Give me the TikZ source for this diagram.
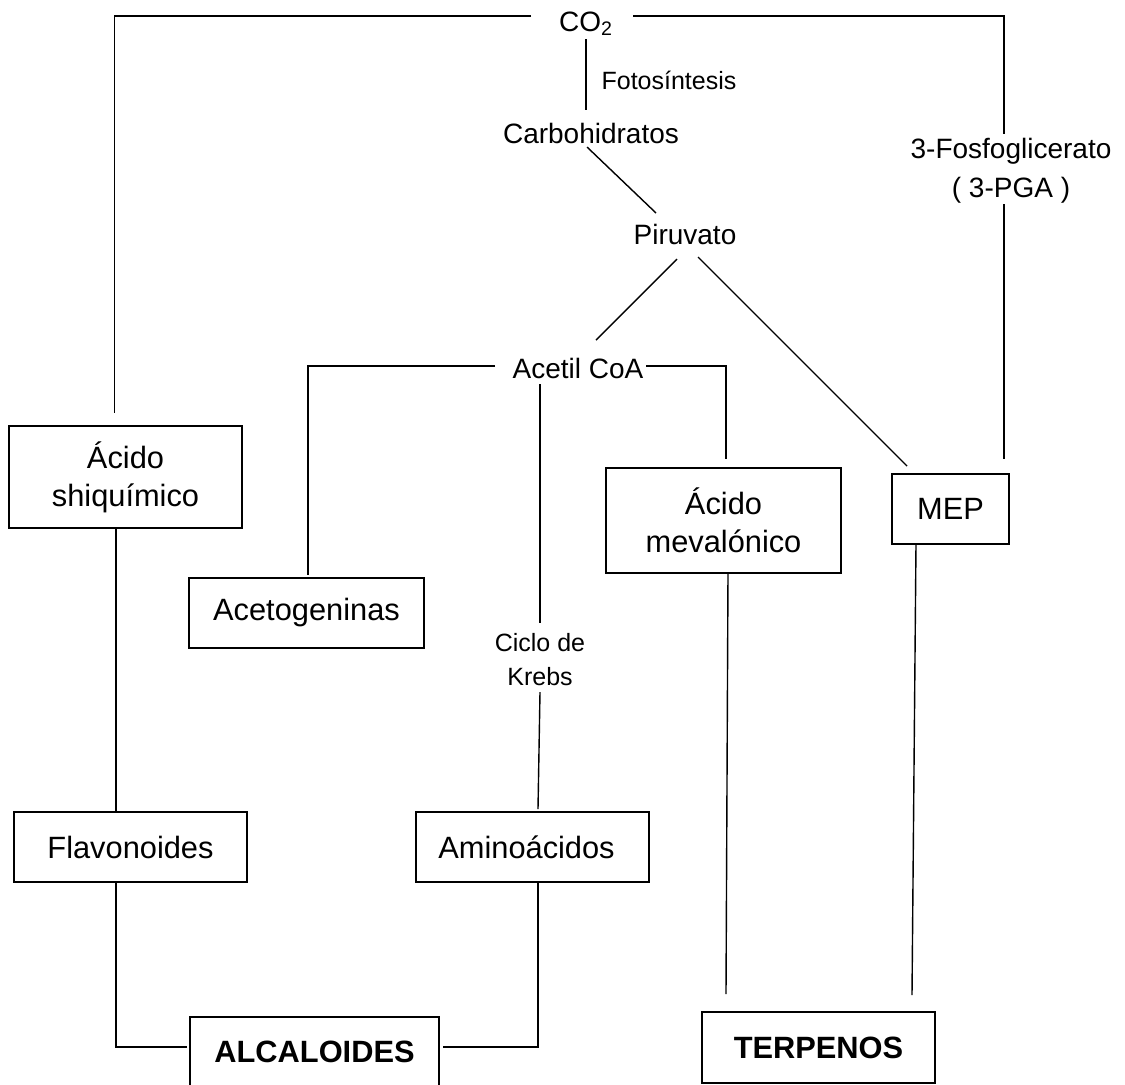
\documentclass[tikz,border=0pt]{standalone}
\usepackage{fontspec}
\setmainfont{Liberation Sans}
\usetikzlibrary{calc}
\begin{document}
\begin{tikzpicture}[x=0.5pt, y=-0.5pt,
	box/.style = {draw, line width=0.9pt, inner sep=0pt, align=center, font=\fontsize{15.4}{19}\selectfont},
	lbl/.style = {inner sep=0pt, align=center, font=\fontsize{14}{19.5}\selectfont},
	small/.style = {inner sep=0pt, align=center, font=\fontsize{12.5}{17}\selectfont},
	link/.style = {line width=0.7pt}]
				\useasboundingbox (0,0) rectangle (1125,1084);

				\node[lbl] (co2) at (586,24) {CO\textsubscript{2}};
				\node[small] (foto) at (669,80) {Fotosíntesis};
				\node[lbl] (carbo) at (591,133) {Carbohidratos};
				\node[lbl] (piru) at (685,234) {Piruvato};
				\node[lbl] (fosfo) at (1011,171) {3-Fosfoglicerato\\( 3-PGA )};
				\node[lbl] (acetil) at (578,368) {Acetil CoA};
				\node[small] (krebs) at (540,660) {Ciclo de\\Krebs};

				\node[box, minimum width=116.5pt, minimum height=51pt] (shiq) at (125.5,477) {Ácido\\shiquímico};
				\node[box, minimum width=117.5pt, minimum height=35pt] (aceto) at (306.5,613) {Acetogeninas};
				\node[box, minimum width=117.5pt, minimum height=52.5pt] (meva) at (723.5,520.5) {Ácido\\mevalónico};
				\node[box, minimum width=58.5pt, minimum height=35pt] (mep) at (950.5,509) {MEP};
				\node[box, minimum width=116.5pt, minimum height=35pt] (flavo) at (130.5,847) {Flavonoides};
				\node[box, minimum width=116.5pt, minimum height=35pt] (amino) at (532.5,847) {Aminoácidos\hspace{6pt}};
				\node[box, minimum width=124.5pt, minimum height=34.5pt] (alca) at (314.5,1051.5) {\textbf{ALCALOIDES}};
				\node[box, minimum width=116.5pt, minimum height=35.5pt] (terp) at (818.5,1047.5) {\textbf{TERPENOS}};

				% from CO2
				\draw[link] ($(co2)+(-55,-8)$) -| ($(shiq)+(-11,-64)$);
				\draw[link] ($(co2)+(47,-8)$) -| ($(fosfo)+(-7,-37)$);
				\draw[link] ($(fosfo)+(-7,33)$) to ($(mep)+(53.5,-50)$);
				\draw[link] ($(co2)+(0,15)$) to ($(carbo)+(-5,-23)$);
				\draw[link] ($(carbo)+(-4,14)$) to ($(piru)+(-29,-21)$);
				\draw[link] ($(piru)+(-8,25)$) to ($(acetil)+(18,-28)$);
				\draw[link] ($(piru)+(13,23)$) to ($(mep)+(-43.5,-43)$);

				% from Acetil CoA
				\draw[link] ($(acetil)+(-83,-2)$) -| ($(aceto)+(1.5,-38)$);
				\draw[link] ($(acetil)+(68,-2)$) -| ($(meva)+(2.5,-61.5)$);
				\draw[link] ($(acetil)+(-38,16)$) to ($(krebs)+(0,-37)$);
				\draw[link] ($(krebs)+(0,32)$) to ($(amino)+(5.5,-38)$);

				% to the end products
				\draw[link] ($(shiq)+(-9.5,51)$) to ($(flavo)+(-14.5,-35)$);
				\draw[link] ($(flavo)+(-14.5,35)$) |- ($(alca)+(-127.5,-4.5)$);
				\draw[link] ($(amino)+(5.5,35)$) |- ($(alca)+(128.5,-4.5)$);
				\draw[link] ($(meva)+(4.5,52.5)$) to ($(terp)+(-92.5,-53.5)$);
				\draw[link] ($(mep)+(-34.5,35)$) to ($(terp)+(93.5,-52.5)$);
			\end{tikzpicture}
\end{document}
